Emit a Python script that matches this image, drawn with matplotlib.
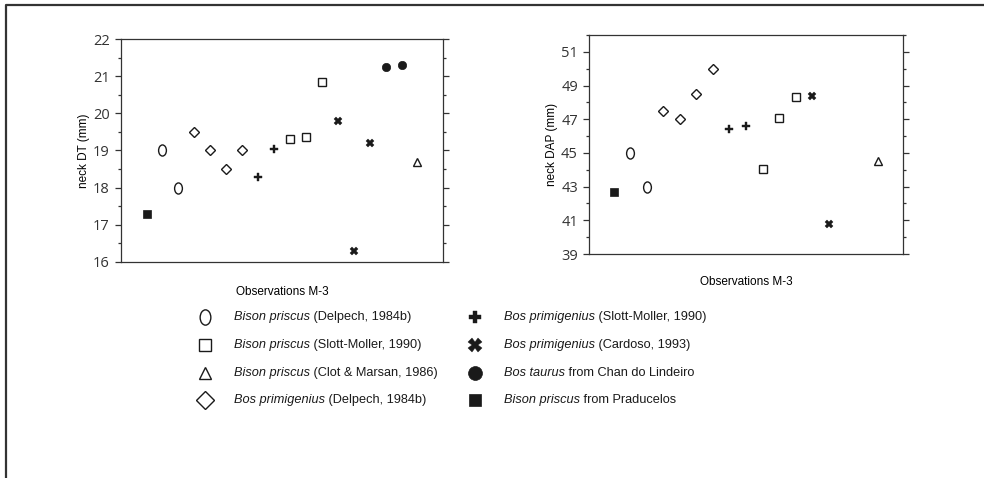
import matplotlib
matplotlib.use("Agg")
import matplotlib.pyplot as plt
from matplotlib.lines import Line2D
from matplotlib.path import Path
from matplotlib.transforms import Affine2D
from matplotlib.ticker import MultipleLocator

# -------------------------------------------------------------------
# Data (observation index, value) per group
# -------------------------------------------------------------------
# neck DT (mm)
dt_praducelos_x = [1]
dt_praducelos_y = [17.3]
dt_bison_delpech_x = [2, 3]
dt_bison_delpech_y = [19.0, 18.0]
dt_bos_delpech_x = [4, 5, 6, 7]
dt_bos_delpech_y = [19.5, 19.0, 18.5, 19.0]
dt_bos_slott_x = [8, 9]
dt_bos_slott_y = [18.3, 19.05]
dt_bison_slott_x = [10, 11, 12]
dt_bison_slott_y = [19.3, 19.35, 20.85]
dt_bos_cardoso_x = [13, 14, 15]
dt_bos_cardoso_y = [19.8, 16.3, 19.2]
dt_bos_taurus_x = [16, 17]
dt_bos_taurus_y = [21.25, 21.3]
dt_bison_clot_x = [18]
dt_bison_clot_y = [18.7]

# neck DAP (mm)
dap_praducelos_x = [1]
dap_praducelos_y = [42.7]
dap_bison_delpech_x = [2, 3]
dap_bison_delpech_y = [45.0, 43.0]
dap_bos_delpech_x = [4, 5, 6, 7]
dap_bos_delpech_y = [47.5, 47.0, 48.5, 50.0]
dap_bos_slott_x = [8, 9]
dap_bos_slott_y = [46.4, 46.6]
dap_bison_slott_x = [10, 11, 12]
dap_bison_slott_y = [44.05, 47.05, 48.3]
dap_bos_cardoso_x = [13, 14]
dap_bos_cardoso_y = [48.4, 40.8]
dap_bison_clot_x = [17]
dap_bison_clot_y = [44.5]

legend_left = [
    ("Bison priscus", " (Delpech, 1984b)", "oval"),
    ("Bison priscus", " (Slott-Moller, 1990)", "osquare"),
    ("Bison priscus", " (Clot & Marsan, 1986)", "triangle"),
    ("Bos primigenius", " (Delpech, 1984b)", "diamond"),
]
legend_right = [
    ("Bos primigenius", " (Slott-Moller, 1990)", "plus"),
    ("Bos primigenius", " (Cardoso, 1993)", "cross"),
    ("Bos taurus", " from Chan do Lindeiro", "circle"),
    ("Bison priscus", " from Praducelos", "fsquare"),
]

INK = "#1a1a1a"
FONT = "Liberation Sans"

# tall ellipse marker, like a letter O
oval_path = Path.unit_circle().transformed(Affine2D().scale(0.7, 1.0))

STYLES = {
    "oval": dict(marker=oval_path, mfc="white", mec=INK, mew=1.0),
    "osquare": dict(marker="s", mfc="white", mec=INK, mew=1.0),
    "triangle": dict(marker="^", mfc="white", mec=INK, mew=1.0),
    "diamond": dict(marker="D", mfc="white", mec=INK, mew=1.0),
    "plus": dict(marker="P", mfc=INK, mec=INK, mew=0.3),
    "cross": dict(marker="X", mfc=INK, mec=INK, mew=0.3),
    "circle": dict(marker="o", mfc=INK, mec=INK, mew=0.5),
    "fsquare": dict(marker="s", mfc=INK, mec=INK, mew=0.5),
}
SIZES = {"oval": 8, "osquare": 5.5, "triangle": 6, "diamond": 5.5,
         "plus": 5.5, "cross": 5.5, "circle": 6, "fsquare": 5.5}
LEG_SIZES = {"oval": 11, "osquare": 8, "triangle": 9, "diamond": 9,
             "plus": 9, "cross": 9.5, "circle": 10, "fsquare": 9}


def scatter(ax, x, y, kind):
    ax.plot(x, y, linestyle="none", ms=SIZES[kind], **STYLES[kind])


def style_axes(ax, major, minor, ylim, xlim, ylabel, xpad):
    ax.set_xlim(*xlim)
    ax.set_ylim(*ylim)
    ax.yaxis.set_major_locator(MultipleLocator(major))
    ax.yaxis.set_minor_locator(MultipleLocator(minor))
    ax.set_xticks([])
    ax.tick_params(axis="y", which="both", direction="out", left=True,
                   right=True, labelright=False, color="#333333",
                   width=0.9, labelsize=10.5, labelcolor="#333333", pad=4)
    ax.tick_params(axis="y", which="major", length=4)
    ax.tick_params(axis="y", which="minor", length=2.5)
    for lab in ax.get_yticklabels():
        lab.set_fontfamily("Open Sans")
    for sp in ax.spines.values():
        sp.set_linewidth(0.9)
        sp.set_color("#333333")
    ax.set_ylabel(ylabel, fontsize=8.5, family=FONT, labelpad=2)
    ax.set_xlabel("Observations M-3", fontsize=8.5, family=FONT,
                  labelpad=xpad)


fig = plt.figure(figsize=(9.84, 4.78), dpi=100)

# left chart: neck DT
ax1 = fig.add_axes([0.1230, 0.4519, 0.3272, 0.4665])
scatter(ax1, dt_praducelos_x, dt_praducelos_y, "fsquare")
scatter(ax1, dt_bison_delpech_x, dt_bison_delpech_y, "oval")
scatter(ax1, dt_bos_delpech_x, dt_bos_delpech_y, "diamond")
scatter(ax1, dt_bos_slott_x, dt_bos_slott_y, "plus")
scatter(ax1, dt_bison_slott_x, dt_bison_slott_y, "osquare")
scatter(ax1, dt_bos_cardoso_x, dt_bos_cardoso_y, "cross")
scatter(ax1, dt_bos_taurus_x, dt_bos_taurus_y, "circle")
scatter(ax1, dt_bison_clot_x, dt_bison_clot_y, "triangle")
style_axes(ax1, 1, 0.5, (16, 22), (-0.6, 19.6), "neck DT (mm)", 17)

# right chart: neck DAP
ax2 = fig.add_axes([0.5986, 0.4686, 0.3191, 0.4582])
scatter(ax2, dap_praducelos_x, dap_praducelos_y, "fsquare")
scatter(ax2, dap_bison_delpech_x, dap_bison_delpech_y, "oval")
scatter(ax2, dap_bos_delpech_x, dap_bos_delpech_y, "diamond")
scatter(ax2, dap_bos_slott_x, dap_bos_slott_y, "plus")
scatter(ax2, dap_bison_slott_x, dap_bison_slott_y, "osquare")
scatter(ax2, dap_bos_cardoso_x, dap_bos_cardoso_y, "cross")
scatter(ax2, dap_bison_clot_x, dap_bison_clot_y, "triangle")
style_axes(ax2, 2, 1, (39, 52), (-0.5, 18.5), "neck DAP (mm)", 16)
ax2.set_yticks(range(39, 52, 2))

# outer frame (left and top edges only)
fig.add_artist(Line2D([6 / 984, 6 / 984, 1.0], [0.0, 1 - 5 / 478, 1 - 5 / 478],
                      transform=fig.transFigure, color="#333333", lw=1.6))

# legend, drawn by hand in two columns
rows_y = [317, 345, 373, 400]
fig.canvas.draw()
renderer = fig.canvas.get_renderer()
for entries, mx, tx in [(legend_left, 205, 234), (legend_right, 475, 504)]:
    for (ital, rest, kind), py in zip(entries, rows_y):
        yf = 1 - py / 478
        fig.add_artist(Line2D([mx / 984], [yf], transform=fig.transFigure,
                              linestyle="none", ms=LEG_SIZES[kind],
                              **STYLES[kind]))
        t = fig.text(tx / 984, yf, ital, style="italic", family=FONT,
                     fontsize=9.2, va="center", ha="left", color=INK)
        bb = t.get_window_extent(renderer)
        fig.text(bb.x1 / fig.bbox.width, yf, rest, family=FONT,
                 fontsize=9.2, va="center", ha="left", color=INK)

fig.savefig("out.png", dpi=100)
